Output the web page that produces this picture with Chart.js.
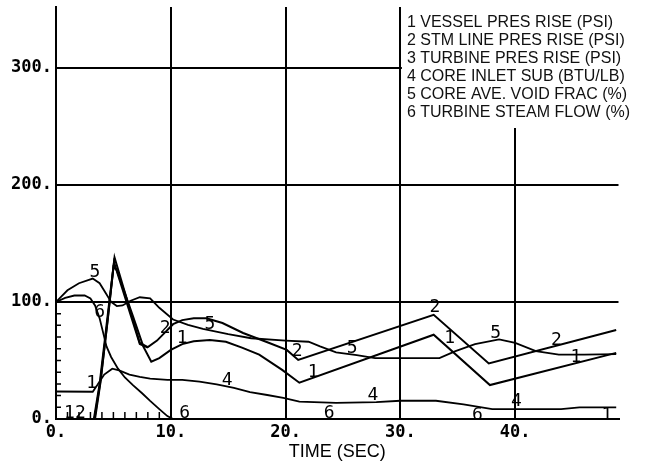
<!DOCTYPE html>
<html>
<head>
<meta charset="utf-8">
<script src="https://cdn.jsdelivr.net/npm/chart.js@4.4.1/dist/chart.umd.min.js"></script>
<style>
  html, body { margin: 0; padding: 0; background: #fff; }
</style>
</head>
<body>
<canvas id="transient" width="647" height="468"></canvas>
<script>
// time (sec) / value pairs for each traced variable
const t1 = [0, 3.3, 3.8, 4.4, 5.0, 5.3, 6.7, 7.6, 8.3, 9.0, 10.0, 11.0, 12.0, 13.4, 14.8, 16.2, 17.7, 19.7, 21.2, 32.9, 37.8, 48.8];
const vesselPres = [0, 0, 30, 80, 130, 127, 88, 62, 49, 52, 59, 64, 66.5, 67.5, 66, 61, 55, 42, 31, 72, 29, 56.5];

const t2 = [0, 3.4, 3.9, 4.5, 5.1, 7.3, 8.0, 8.8, 9.5, 10.2, 11.0, 12.0, 13.1, 14.5, 16.3, 18.3, 20.1, 21.1, 32.9, 37.7, 48.8];
const stmLinePres = [0, 0, 33, 85, 138, 65, 61.5, 67, 74, 81, 84.5, 86, 86, 82, 73.5, 66, 59, 50.5, 89, 47.5, 76];

const t3 = [0, 3.35, 3.85, 4.5, 5.05, 7.3, 8.0];
const turbinePres = [0, 0, 31, 84, 134, 64, 61];

const t4 = [0, 3.2, 3.6, 4.2, 4.9, 5.5, 6.4, 7.3, 8.2, 9.7, 11.0, 12.5, 14.0, 15.5, 16.9, 18.4, 19.8, 21.2, 24.4, 27.9, 30.0, 33.1, 35.5, 38.0, 44.0, 45.6, 48.8];
const inletSub = [23.5, 23.3, 29, 38, 43, 41.5, 38, 36, 34.5, 33.5, 33.5, 32, 29.5, 26.5, 23, 20.5, 18, 14.8, 13.8, 14.5, 15.6, 15.6, 12.5, 8.5, 8.5, 10, 10];

const t5 = [0, 1.0, 2.0, 3.2, 3.8, 4.3, 4.8, 5.3, 5.8, 6.5, 7.3, 8.2, 9.0, 10.2, 11.5, 12.8, 15.0, 17.0, 20.0, 22.0, 23.0, 24.4, 26.2, 27.8, 33.4, 34.8, 36.5, 38.6, 40.0, 41.8, 43.8, 46.0, 48.8];
const voidFrac = [100, 110, 116, 120, 116, 108, 100, 96.5, 97, 101, 104, 103, 95, 85, 80.5, 77, 72.5, 69, 67, 66, 62, 57, 54.5, 52, 52, 58, 64, 68, 65, 58, 55, 55, 55.5];

const t6 = [0, 0.8, 1.6, 2.5, 3.0, 3.4, 3.8, 4.1, 4.4, 4.8, 5.4, 6.0, 6.7, 7.5, 8.2, 9.0, 9.7, 10.2, 49];
const steamFlow = [100, 103.5, 105.5, 105.5, 103, 97, 86, 74, 62, 53, 43, 35.5, 29, 22, 15.5, 8.5, 2.5, 0, 0];

const legendLines = [
  '1 VESSEL PRES RISE (PSI)',
  '2 STM LINE PRES RISE (PSI)',
  '3 TURBINE PRES RISE (PSI)',
  '4 CORE INLET SUB (BTU/LB)',
  '5 CORE AVE. VOID FRAC (%)',
  '6 TURBINE STEAM FLOW (%)'
];

const xTicks = [0, 10, 20, 30, 40];
const yTicks = [0, 100, 200, 300];

// curve id numbers written along the traces (time, value)
const tagText = ['5', '5', '5', '5', '2', '2', '2', '2', '1', '1', '1', '1', '1', '12', '4', '4', '4', '6', '6', '6', '6', '1'];
const tagT = [3.4, 13.4, 25.8, 38.3, 9.5, 21.0, 33.0, 43.6, 11.0, 22.4, 34.3, 45.3, 3.1, 1.65, 14.9, 27.6, 40.1, 3.8, 11.2, 23.8, 36.7, 48.0];
const tagV = [125.6, 81, 60.7, 73.5, 77.8, 58, 95, 67.5, 69, 40, 69, 53, 30.8, 5, 33.3, 20.5, 15.4, 91.5, 5, 5, 3.4, 3.4];

const pts = (ts, vs) => ts.map((t, i) => ({ x: t, y: vs[i] }));

const series = [
  [t1, vesselPres], [t2, stmLinePres], [t3, turbinePres],
  [t4, inletSub], [t5, voidFrac], [t6, steamFlow]
];

const plotterFont = '"DejaVu Sans Mono", monospace';

const plotExtras = {
  id: 'plotExtras',
  beforeDatasetsDraw(chart) {
    const { ctx, scales: { x, y }, chartArea } = chart;
    ctx.save();
    // minor ticks along the first 10 s and first 100 units
    ctx.strokeStyle = '#000';
    ctx.lineWidth = 1.5;
    ctx.beginPath();
    for (let s = 1; s < 10; s++) {
      const px = x.getPixelForValue(s);
      ctx.moveTo(px, chartArea.bottom);
      ctx.lineTo(px, chartArea.bottom - 7);
    }
    for (let v = 10; v < 100; v += 10) {
      const py = y.getPixelForValue(v);
      ctx.moveTo(chartArea.left, py);
      ctx.lineTo(chartArea.left + 5, py);
    }
    ctx.stroke();

    // legend block in the upper right
    const boxLeft = x.getPixelForValue(30) + 1.5;
    ctx.fillStyle = '#fff';
    ctx.fillRect(boxLeft, 0, chart.width - boxLeft, 128);
    ctx.fillStyle = '#111';
    ctx.font = '16px "Liberation Sans", Arial, sans-serif';
    ctx.textBaseline = 'alphabetic';
    ctx.textAlign = 'left';
    legendLines.forEach((line, i) => {
      ctx.fillText(line, boxLeft + 5, 27 + i * 17.9);
    });
    ctx.restore();
  },
  afterDatasetsDraw(chart) {
    const { ctx, scales: { x, y } } = chart;
    ctx.save();
    ctx.fillStyle = '#000';
    ctx.font = '18px ' + plotterFont;
    ctx.textAlign = 'center';
    ctx.textBaseline = 'middle';
    tagText.forEach((txt, i) => {
      ctx.fillText(txt, x.getPixelForValue(tagT[i]), y.getPixelForValue(tagV[i]));
    });
    ctx.restore();
  }
};

new Chart(document.getElementById('transient'), {
  type: 'line',
  data: {
    datasets: series.map(([ts, vs], i) => ({
      label: legendLines[i],
      data: pts(ts, vs),
      borderColor: '#000',
      borderWidth: i < 3 ? 2 : 1.8,
      pointRadius: 0,
      tension: 0,
      fill: false
    }))
  },
  options: {
    responsive: false,
    animation: false,
    layout: { padding: { top: 7, right: 28.5, left: 0, bottom: 0 } },
    plugins: { legend: { display: false }, tooltip: { enabled: false } },
    scales: {
      x: {
        type: 'linear',
        min: 0,
        max: 49,
        afterBuildTicks: s => { s.ticks = xTicks.map(v => ({ value: v })); },
        afterFit: s => { s.height = 49; },
        grid: { color: '#000', lineWidth: 2, drawTicks: false },
        border: { color: '#000', width: 2 },
        ticks: {
          color: '#000',
          padding: 3,
          maxRotation: 0,
          font: { family: plotterFont, size: 17, weight: 'bold' },
          callback: v => v + '.'
        },
        title: {
          display: true,
          text: 'TIME (SEC)',
          color: '#000',
          font: { family: '"Liberation Sans", Arial, sans-serif', size: 18 },
          padding: { top: 0, bottom: 5 }
        }
      },
      y: {
        min: 0,
        max: 352,
        afterBuildTicks: s => { s.ticks = yTicks.map(v => ({ value: v })); },
        afterFit: s => { s.width = 56; s.paddingTop = 0; s.paddingBottom = 0; },
        grid: { color: '#000', lineWidth: 2, drawTicks: false },
        border: { color: '#000', width: 2 },
        ticks: {
          color: '#000',
          padding: 4,
          font: { family: plotterFont, size: 17, weight: 'bold' },
          callback: v => v + '.'
        }
      }
    }
  },
  plugins: [plotExtras]
});
</script>
</body>
</html>
